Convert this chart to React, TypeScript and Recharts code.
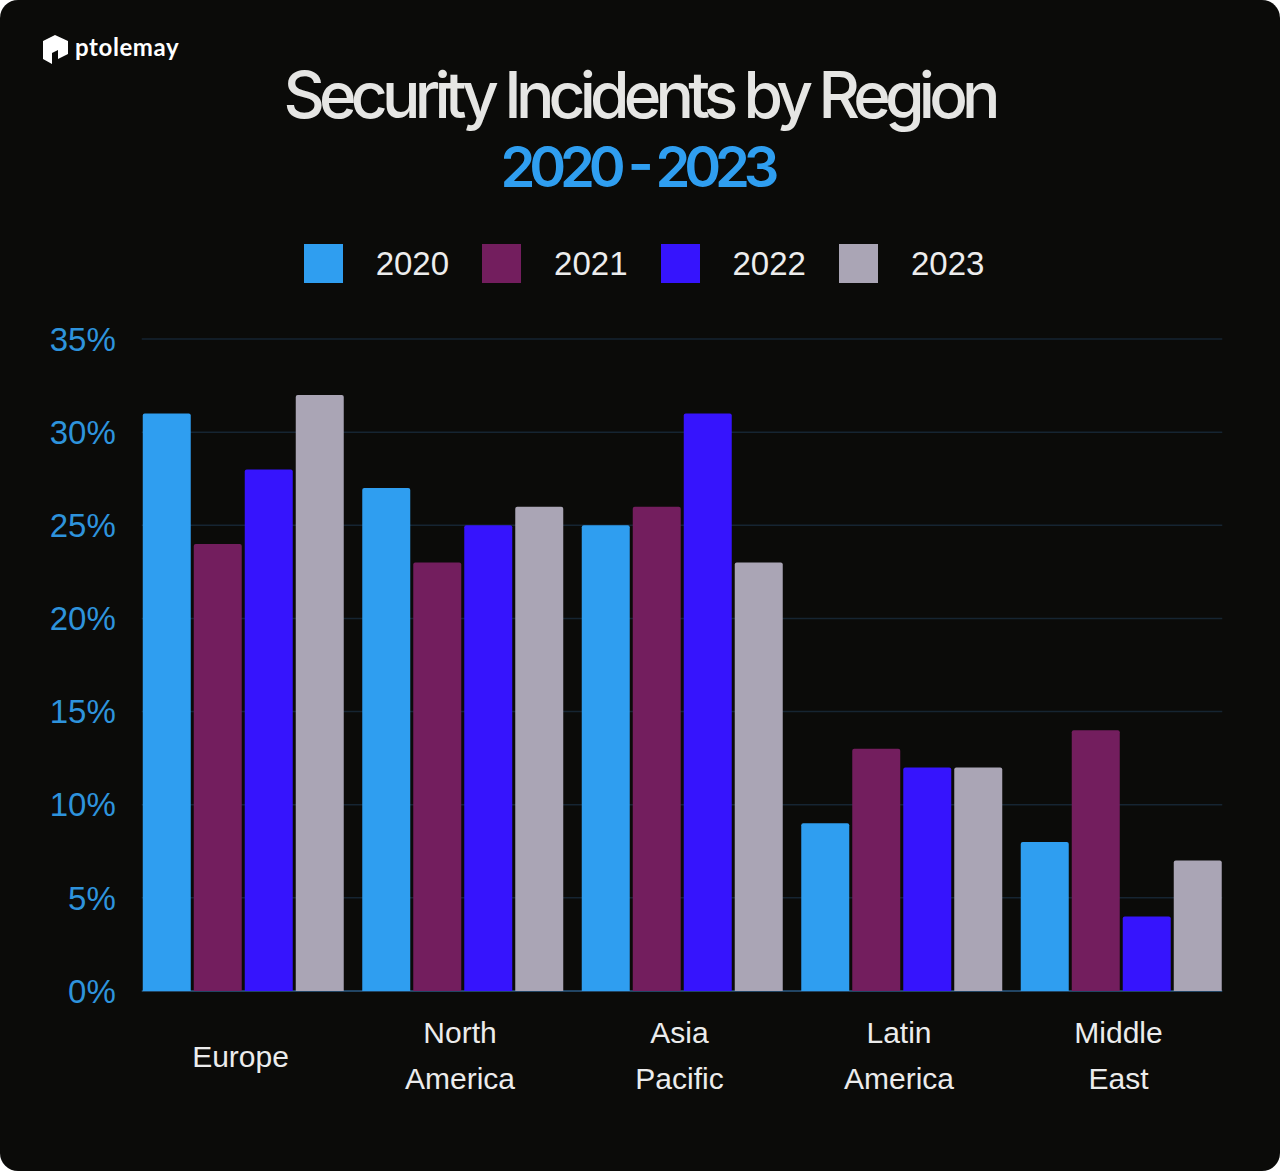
import React from 'react';
import { BarChart, Bar, XAxis, YAxis, CartesianGrid, Legend } from 'recharts';

const regions = ['Europe', 'North America', 'Asia Pacific', 'Latin America', 'Middle East'];
const years = ['2020', '2021', '2022', '2023'];
const values2020 = [31, 27, 25, 9, 8];
const values2021 = [24, 23, 26, 13, 14];
const values2022 = [28, 25, 31, 12, 4];
const values2023 = [32, 26, 23, 12, 7];
const yTicks = [0, 5, 10, 15, 20, 25, 30, 35];
const colors = ['#2f9ef0', '#731e5e', '#3614fd', '#aaa5b5'];

const seriesValues = [values2020, values2021, values2022, values2023];
const data = regions.map((region, i) => {
  const row: Record<string, string | number> = { region };
  years.forEach((y, k) => {
    row[y] = seriesValues[k][i];
  });
  return row;
});

const TICK_FONT = '"Liberation Sans", Arial, Helvetica, sans-serif';

const gridLine = (props: any) => {
  const { x1, x2, y1, y, height } = props;
  const isBase = Math.abs(y1 - (y + height)) < 0.5;
  return (
    <line
      key={`g-${y1}`}
      x1={x1 + 8}
      x2={x2 - 9}
      y1={y1}
      y2={y1}
      stroke={isBase ? '#2b5a82' : '#162532'}
      strokeWidth={1.5}
    />
  );
};

const XTick = (props: any) => {
  const { x, y, payload } = props;
  const words = String(payload.value).split(' ');
  const lines = words.length > 1 ? [words[0], words.slice(1).join(' ')] : words;
  const dys = lines.length > 1 ? [52, 98] : [76];
  return (
    <g>
      {lines.map((ln, i) => (
        <text
          key={i}
          x={x - 3}
          y={y}
          dy={dys[i]}
          textAnchor="middle"
          fill="#ececec"
          fontSize={30}
          fontFamily={TICK_FONT}
        >
          {ln}
        </text>
      ))}
    </g>
  );
};

const LegendContent = (props: any) => {
  const payload = props.payload || [];
  return (
    <div
      style={{
        display: 'flex',
        justifyContent: 'center',
        alignItems: 'center',
        gap: 33,
        height: 54,
        paddingLeft: 8,
        fontFamily: TICK_FONT,
      }}
    >
      {payload.map((p: any) => (
        <React.Fragment key={p.value}>
          <div style={{ width: 39, height: 39, background: p.color }} />
          <span style={{ color: '#ededed', fontSize: 33, lineHeight: '39px' }}>{p.value}</span>
        </React.Fragment>
      ))}
    </div>
  );
};

export default function App() {
  return (
    <>
      <style>{`html,body{margin:0;padding:0;background:#ffffff;overflow:hidden;}`}</style>
      <div
        style={{
          position: 'relative',
          width: 1280,
          height: 1171,
          background: '#0b0b09',
          borderRadius: 18,
          overflow: 'hidden',
        }}
      >
        <svg
          width={1280}
          height={220}
          style={{ position: 'absolute', left: 0, top: 0, pointerEvents: 'none' }}
        >
          <polygon
            points="43,41 55,35 68,41 68,54 58,59 58,50 52,53 52,64 43,59"
            fill="#ffffff"
          />
          <text
            x={75}
            y={56}
            fill="#ffffff"
            fontSize={24}
            fontWeight={700}
            letterSpacing={0.6}
            fontFamily="Lato, 'Open Sans', sans-serif"
          >
            ptolemay
          </text>
          <text
            x={642}
            y={118}
            textAnchor="middle"
            fill="#e6e6e4"
            fontSize={64}
            fontWeight={500}
            fontFamily="Inter, 'Liberation Sans', sans-serif"
            textLength={717}
            lengthAdjust="spacing"
          >
            Security Incidents by Region
          </text>
          <text
            x={640}
            y={187}
            textAnchor="middle"
            fill="#2f9ef0"
            fontSize={56}
            fontWeight={600}
            fontFamily="Inter, 'Liberation Sans', sans-serif"
            textLength={279}
            lengthAdjust="spacing"
          >
            2020 - 2023
          </text>
        </svg>
        <div style={{ position: 'absolute', left: 0, top: 0 }}>
          <BarChart
            width={1280}
            height={1171}
            data={data}
            margin={{ top: 285, right: 48.75, bottom: 60, left: 33.75 }}
            barCategoryGap={9}
            barGap={3}
          >
            <CartesianGrid vertical={false} horizontal={gridLine} />
            <XAxis
              dataKey="region"
              axisLine={false}
              tickLine={false}
              tickSize={0}
              tickMargin={0}
              height={120}
              interval={0}
              tick={<XTick />}
            />
            <YAxis
              domain={[0, 35]}
              ticks={yTicks}
              axisLine={false}
              tickLine={false}
              tickSize={0}
              tickMargin={18}
              width={100}
              tickFormatter={(v: number) => `${v}%`}
              tick={{ fill: '#2e93dc', fontSize: 33, fontFamily: TICK_FONT }}
            />
            <Legend
              verticalAlign="top"
              content={<LegendContent />}
              wrapperStyle={{ top: 236, left: 0, width: 1280, height: 54 }}
            />
            {years.map((y, k) => (
              <Bar
                key={y}
                dataKey={y}
                name={y}
                fill={colors[k]}
                radius={[2, 2, 0, 0]}
                isAnimationActive={false}
              />
            ))}
          </BarChart>
        </div>
      </div>
    </>
  );
}
